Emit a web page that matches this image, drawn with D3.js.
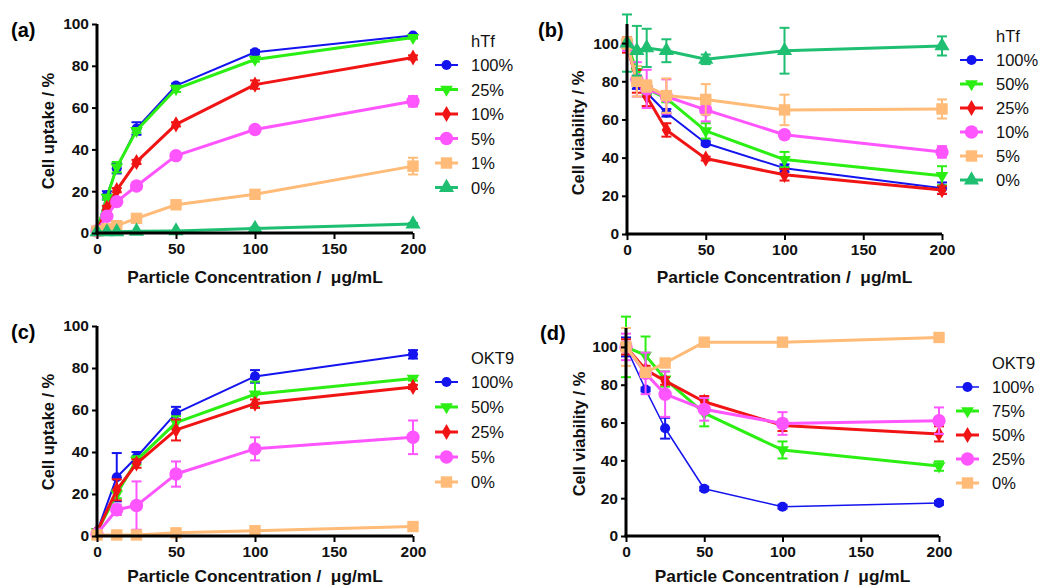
<!DOCTYPE html>
<html>
<head>
<meta charset="utf-8">
<script src="https://cdn.jsdelivr.net/npm/d3@7"></script>
<style>
  body { margin: 0; background: #fff; }
  svg { display: block; font-family: "Liberation Sans", Arial, sans-serif; }
  .xt { white-space: pre; }
</style>
</head>
<body>
<svg id="chart" width="1039" height="587"></svg>
<script>
// concentrations (ug/mL)
const concHTf = [0, 6.25, 12.5, 25, 50, 100, 200];
const concOKT9 = [0, 12.5, 25, 50, 100, 200];
const xTicks = [0, 50, 100, 150, 200];

// (a) uptake, hTf
const uptakeHTfLabels = ["100%", "25%", "10%", "5%", "1%", "0%"];
const uptakeHTfValues = [
    [1, 18, 31, 50, 70.5, 86.5, 94.5],
    [1, 17, 31.5, 49, 69, 83, 93.5],
    [1, 12, 20.5, 34, 52, 71, 84],
    [1, 8, 15, 22.5, 37, 49.5, 63],
    [1, 2, 3.5, 7, 13.5, 18.5, 32],
    [0.5, 0.5, 0.6, 0.8, 1, 2.2, 4.3]
];
const uptakeHTfErrors = [
    [0, 2, 2.5, 3, 1, 1, 0.5],
    [0, 1, 2.5, 1, 1.5, 1, 0.5],
    [0, 1, 1, 1, 1, 2, 1],
    [0, 1, 1, 1, 1, 1, 2.5],
    [0, 0.5, 0.5, 1, 1, 1.5, 4],
    [0, 0, 0, 0, 0, 0.5, 0.5]
];

// (b) viability, hTf
const viabHTfLabels = ["100%", "50%", "25%", "10%", "5%", "0%"];
const viabHTfValues = [
    [100, 78, 74, 63.5, 47.5, 34.5, 24],
    [100, 85, 76, 71, 54, 39, 30.5],
    [99, 80, 72, 54.5, 39.5, 31, 23],
    [99, 81, 76, 72, 65, 52, 43],
    [100, 80, 77.5, 72.5, 70.5, 65, 65.5],
    [100, 96, 97.5, 96, 91.5, 96, 98.5]
];
const viabHTfErrors = [
    [2, 2, 2, 2, 1, 2, 3],
    [2, 3, 3, 2, 4, 4, 5],
    [4, 6, 5, 3.5, 1, 3, 2],
    [3, 9, 10, 9, 6, 2, 3],
    [3, 8, 3, 9, 8, 8, 5],
    [15, 13, 10, 6, 2.5, 12, 5]
];

// (c) uptake, OKT9
const uptakeOKT9Labels = ["100%", "50%", "25%", "5%", "0%"];
const uptakeOKT9Values = [
    [2, 28, 37.5, 58.5, 76, 86.5],
    [2, 20, 36, 54, 67.5, 75],
    [2, 22, 34.5, 50.5, 63, 71],
    [1, 12.5, 14.5, 29.5, 41.5, 47],
    [0.5, 0.5, 0.5, 1.5, 2.5, 4.5]
];
const uptakeOKT9Errors = [
    [1, 11.5, 2.5, 3, 3, 2],
    [1, 2, 2, 3, 6, 1],
    [1, 5, 2, 5, 2, 1],
    [1, 2.5, 11.5, 6, 5.5, 8],
    [0, 0, 0, 0.5, 0.5, 0.5]
];

// (d) viability, OKT9
const viabOKT9Labels = ["100%", "75%", "50%", "25%", "0%"];
const viabOKT9Values = [
    [100, 77.5, 57, 25, 15.5, 17.5],
    [100, 95.5, 83, 65, 45.5, 37],
    [100, 88, 82, 71, 58.5, 54],
    [100, 86, 75, 67, 59.5, 61],
    [100, 86.5, 91.5, 102.5, 102.5, 105]
];
const viabOKT9Errors = [
    [5, 1, 5.5, 1, 1, 1],
    [16, 10, 4, 7, 4.5, 2.5],
    [4, 2, 2, 3, 3, 4],
    [7, 11, 12, 6, 6, 7],
    [10, 1, 1, 1, 1, 1]
];

const COL = {
    blue: "#1414ee", green: "#2bef12", red: "#f01414",
    magenta: "#ff55ff", orange: "#ffbb77", teal: "#1fbf72"
};
const circle = { type: d3.symbolCircle, size: 80 };
const bigCircle = { type: d3.symbolCircle, size: 140 };
const down = { type: d3.symbolTriangle, size: 70, rot: 180 };
const up = { type: d3.symbolTriangle, size: 100 };
const diamond = { type: d3.symbolDiamond, size: 75 };
const square = { type: d3.symbolSquare, size: 130 };

const svg = d3.select("#chart");

function drawPanel(p) {
    const g = svg.append("g");
    const x = d3.scaleLinear().domain([0, 200]).range([p.left, p.right]);
    const y = d3.scaleLinear().domain([0, p.yMax]).range([p.bottom, p.top]);

    // panel letter
    g.append("text").attr("x", p.tagX).attr("y", p.tagY)
        .attr("font-size", 20).attr("font-weight", "bold").text(p.tag);

    // series
    p.values.forEach((vals, i) => {
        const st = p.styles[i];
        const s = g.append("g");
        const pts = p.conc.map((c, j) => ({ c, v: vals[j], e: p.errors[i][j] }));
        s.append("path").datum(pts)
            .attr("fill", "none").attr("stroke", st.color).attr("stroke-width", st.lw)
            .attr("stroke-linejoin", "round")
            .attr("d", d3.line().x(d => x(d.c)).y(d => y(d.v)));
        pts.filter(d => d.e > 0).forEach(d => {
            const cx = x(d.c), y1 = y(d.v + d.e), y2 = y(d.v - d.e);
            s.append("line").attr("x1", cx).attr("x2", cx).attr("y1", y1).attr("y2", y2)
                .attr("stroke", st.color).attr("stroke-width", 2);
            [y1, y2].forEach(yy => s.append("line")
                .attr("x1", cx - 5).attr("x2", cx + 5).attr("y1", yy).attr("y2", yy)
                .attr("stroke", st.color).attr("stroke-width", 2));
        });
        s.selectAll("path.m").data(pts).enter().append("path").attr("class", "m")
            .attr("d", d3.symbol().type(st.marker.type).size(st.marker.size))
            .attr("transform", d => `translate(${x(d.c)},${y(d.v)})` + (st.marker.rot ? ` rotate(${st.marker.rot})` : ""))
            .attr("fill", st.color);
    });

    // axes
    const ya = g.append("g").attr("transform", `translate(${p.left},0)`)
        .call(d3.axisLeft(y).tickValues(d3.range(0, 101, 20)).tickSize(5).tickPadding(3));
    const xa = g.append("g").attr("transform", `translate(0,${p.bottom})`)
        .call(d3.axisBottom(x).tickValues(xTicks).tickSize(6).tickPadding(4));
    [ya, xa].forEach(a => {
        a.select(".domain").attr("stroke", "#000").attr("stroke-width", 3);
        a.selectAll(".tick line").attr("stroke", "#000").attr("stroke-width", 2);
        a.selectAll(".tick text").attr("font-size", 15.5).attr("font-weight", "bold")
            .attr("fill", "#111").attr("font-family", "Liberation Sans, Arial, sans-serif");
    });
    xa.select(".domain").attr("d", `M${p.left - 1.5},0H${p.right}`);
    ya.select(".domain").attr("d", `M0,${p.top}V${p.bottom}`);

    g.append("text").attr("class", "xt").attr("x", (p.left + p.right) / 2).attr("y", p.bottom + p.xLabelDy)
        .attr("text-anchor", "middle").attr("font-size", 17.3).attr("font-weight", "bold")
        .attr("fill", "#111").text("Particle Concentration /  \u03bcg/mL");
    g.append("text").attr("transform", `translate(${p.yLabelX},${p.yLabelY}) rotate(-90)`)
        .attr("text-anchor", "middle").attr("font-size", 16.5).attr("font-weight", "bold")
        .attr("fill", "#111").text(p.yTitle);

    // legend
    const lg = g.append("g");
    lg.append("text").attr("x", p.legX + 36).attr("y", p.legY - 18)
        .attr("font-size", 16.5).attr("fill", "#111").text(p.legTitle);
    p.labels.forEach((lab, i) => {
        const st = p.styles[i];
        const yy = p.legY + i * p.legStep;
        lg.append("line").attr("x1", p.legX).attr("x2", p.legX + 23).attr("y1", yy).attr("y2", yy)
            .attr("stroke", st.color).attr("stroke-width", st.lw);
        lg.append("path").attr("d", d3.symbol().type(st.marker.type).size(st.marker.size)())
            .attr("transform", `translate(${p.legX + 11.5},${yy})` + (st.marker.rot ? ` rotate(${st.marker.rot})` : ""))
            .attr("fill", st.color);
        lg.append("text").attr("x", p.legX + 36).attr("y", yy + 6)
            .attr("font-size", 16.5).attr("fill", "#111").text(lab);
    });
}

drawPanel({
    tag: "(a)", tagX: 11, tagY: 37,
    left: 97, right: 413, bottom: 233, top: 24, yMax: 100, xLabelDy: 50,
    conc: concHTf, values: uptakeHTfValues, errors: uptakeHTfErrors, labels: uptakeHTfLabels,
    styles: [
        { color: COL.blue, marker: circle, lw: 2 },
        { color: COL.green, marker: down, lw: 3 },
        { color: COL.red, marker: diamond, lw: 3 },
        { color: COL.magenta, marker: bigCircle, lw: 3 },
        { color: COL.orange, marker: square, lw: 3 },
        { color: COL.teal, marker: up, lw: 3 }
    ],
    yTitle: "Cell uptake / %", yLabelX: 54, yLabelY: 131,
    legTitle: "hTf", legX: 435, legY: 65, legStep: 24.5
});

drawPanel({
    tag: "(b)", tagX: 538, tagY: 37,
    left: 627, right: 942, bottom: 234, top: 24, yMax: 110, xLabelDy: 49,
    conc: concHTf, values: viabHTfValues, errors: viabHTfErrors, labels: viabHTfLabels,
    styles: [
        { color: COL.blue, marker: circle, lw: 2 },
        { color: COL.green, marker: down, lw: 3 },
        { color: COL.red, marker: diamond, lw: 3 },
        { color: COL.magenta, marker: bigCircle, lw: 3 },
        { color: COL.orange, marker: square, lw: 3 },
        { color: COL.teal, marker: up, lw: 3 }
    ],
    yTitle: "Cell viability / %", yLabelX: 584, yLabelY: 133,
    legTitle: "hTf", legX: 960, legY: 60, legStep: 24
});

drawPanel({
    tag: "(c)", tagX: 11, tagY: 339,
    left: 97, right: 413, bottom: 536, top: 326, yMax: 100, xLabelDy: 46,
    conc: concOKT9, values: uptakeOKT9Values, errors: uptakeOKT9Errors, labels: uptakeOKT9Labels,
    styles: [
        { color: COL.blue, marker: circle, lw: 2 },
        { color: COL.green, marker: down, lw: 3 },
        { color: COL.red, marker: diamond, lw: 3 },
        { color: COL.magenta, marker: bigCircle, lw: 3 },
        { color: COL.orange, marker: square, lw: 3 }
    ],
    yTitle: "Cell uptake / %", yLabelX: 54, yLabelY: 432,
    legTitle: "OKT9", legX: 435, legY: 382, legStep: 25
});

drawPanel({
    tag: "(d)", tagX: 540, tagY: 340,
    left: 626, right: 939, bottom: 536, top: 328, yMax: 110, xLabelDy: 46,
    conc: concOKT9, values: viabOKT9Values, errors: viabOKT9Errors, labels: viabOKT9Labels,
    styles: [
        { color: COL.blue, marker: circle, lw: 1.5 },
        { color: COL.green, marker: down, lw: 3 },
        { color: COL.red, marker: diamond, lw: 3 },
        { color: COL.magenta, marker: bigCircle, lw: 3 },
        { color: COL.orange, marker: square, lw: 3 }
    ],
    yTitle: "Cell viability / %", yLabelX: 585, yLabelY: 434,
    legTitle: "OKT9", legX: 956, legY: 387, legStep: 24
});
</script>
</body>
</html>
